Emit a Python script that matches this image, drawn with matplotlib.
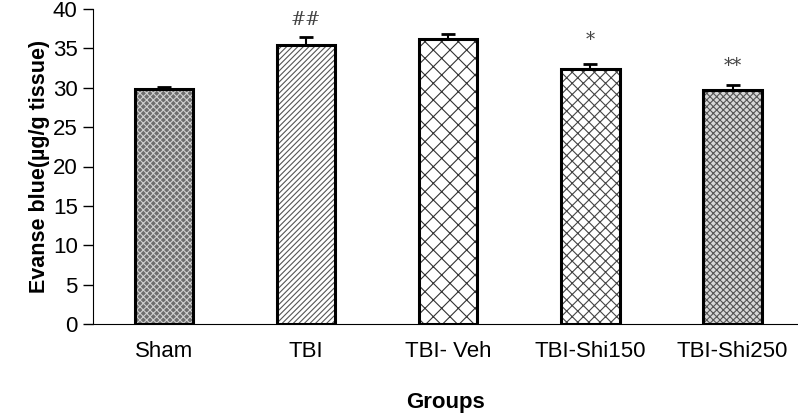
import matplotlib.pyplot as plt
import matplotlib.colors as mcolors
import numpy as np

plt.rcParams['font.family'] = ['Liberation Sans', 'DejaVu Sans']
plt.rcParams['hatch.linewidth'] = 0.8

groups = ['Sham', 'TBI', 'TBI- Veh', 'TBI-Shi150', 'TBI-Shi250']
means = [29.8, 35.4, 36.2, 32.4, 29.7]
errors = [0.3, 1.0, 0.6, 0.6, 0.6]
marks = ['', '##', '', '*', '**']
mark_y = [0, 38.6, 0, 36.0, 32.7]

faces = ['#6e6e6e', 'white', 'white', 'white', '#d8d8d8']
hatches = ['xxxxx', '//////', 'xx', 'xxx', 'xxxxx']
hatch_colors = ['#d0d0d0', '#555555', '#333333', '#444444', '#555555']

fig = plt.figure(figsize=(7.98, 4.2), dpi=100)
ax = fig.add_axes([93 / 798, 1 - 324 / 420, (798 - 93) / 798, (324 - 9) / 420])

x = np.arange(len(groups))
bars = ax.bar(x, means, width=0.41, color=faces, edgecolor='black', linewidth=2.2, zorder=2)
for b, h, hc in zip(bars, hatches, hatch_colors):
    b.set_hatch(h)
    b._hatch_color = mcolors.to_rgba(hc)

# only upper error bars
ax.errorbar(x, means, yerr=[np.zeros(len(errors)), errors], fmt='none', ecolor='black',
            elinewidth=1.5, capsize=5, capthick=2, zorder=3)

for xi, m, my in zip(x, marks, mark_y):
    if m:
        ax.text(xi, my, m, ha='center', va='center', fontsize=13, color='#444444',
                family='DejaVu Serif')

ax.set_xlim(-0.5, 4.46)
ax.set_ylim(0, 40)
ax.set_yticks(range(0, 41, 5))
ax.set_xticks(x)
ax.set_xticklabels(groups, fontsize=16)
ax.tick_params(axis='x', length=0, pad=12)
ax.tick_params(axis='y', labelsize=16, length=7, width=1, direction='out', pad=4)
ax.spines['top'].set_visible(False)
ax.spines['right'].set_visible(False)
ax.set_ylabel('Evanse blue(µg/g tissue)', fontsize=15.5, fontweight='bold', labelpad=2)
ax.set_xlabel('Groups', fontsize=16, fontweight='bold', labelpad=22)

fig.savefig('out.png', dpi=100)
